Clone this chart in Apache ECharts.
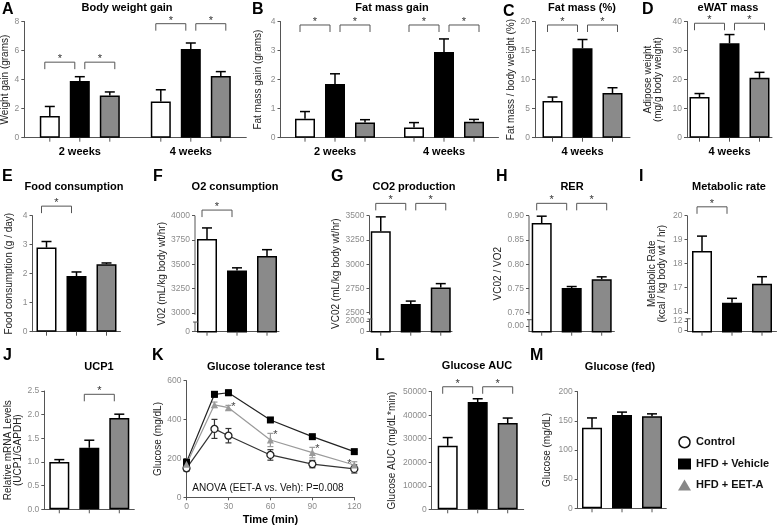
<!DOCTYPE html>
<html>
<head>
<meta charset="utf-8">
<script src="https://cdn.jsdelivr.net/npm/echarts@6/dist/echarts.min.js"></script>
<style>
html, body { margin: 0; padding: 0; background: #fff; }
#chart { width: 777px; height: 528px; }
</style>
</head>
<body>
<div id="chart"></div>
<script>
// groups in every panel: Control, HFD + Vehicle, HFD + EET-A
var groups = ['Control', 'HFD + Vehicle', 'HFD + EET-A'];
var weeks2 = ['2 weeks', '4 weeks'];
var weeks1 = ['4 weeks'];
var noCat = [''];

// mean per category (rows) and group (cols); sem the same; sig = [category, from, to, bracket level]
var weightGain = [[1.5, 3.9, 2.9], [2.5, 6.1, 4.25]];
var weightGainSem = [[0.65, 0.3, 0.25], [0.8, 0.42, 0.3]];
var weightGainSig = [[0, 0, 1, 5.2], [0, 1, 2, 5.2], [1, 0, 1, 7.85], [1, 1, 2, 7.85]];

var fatGain = [[0.65, 1.85, 0.52], [0.35, 2.95, 0.55]];
var fatGainSem = [[0.25, 0.35, 0.1], [0.17, 0.45, 0.08]];
var fatGainSig = [[0, 0, 1, 3.88], [0, 1, 2, 3.88], [1, 0, 1, 3.88], [1, 1, 2, 3.88]];

var fatPct = [[6.3, 15.4, 7.7]];
var fatPctSem = [[0.7, 1.5, 0.9]];
var fatPctSig = [[0, 0, 1, 19.4], [0, 1, 2, 19.4]];

var ewat = [[14, 32.5, 20.6]];
var ewatSem = [[1.2, 3.0, 1.9]];
var ewatSig = [[0, 0, 1, 39.4], [0, 1, 2, 39.4]];

var food = [[2.9, 1.92, 2.33]];
var foodSem = [[0.21, 0.14, 0.04]];
var foodSig = [[0, 0, 1, 4.33]];

var vo2 = [[3760, 3436, 3584]];
var vo2Sem = [[114, 27, 66]];
var vo2Sig = [[0, 0, 1, 4058]];
var vo2Ticks = [3000, 3250, 3500, 3750, 4000];
var vo2Low = ['2000', '0'];

var vco2 = [[3340, 2590, 2760]];
var vco2Sem = [[148, 30, 40]];
var vco2Sig = [[0, 0, 1, 3627], [0, 1, 2, 3627]];
var vco2Ticks = [2500, 2750, 3000, 3250, 3500];
var vco2Low = ['2000', '0'];

var rer = [[0.885, 0.751, 0.769]];
var rerSem = [[0.014, 0.003, 0.005]];
var rerSig = [[0, 0, 1, 0.9255], [0, 1, 2, 0.9255]];
var rerTicks = [0.70, 0.75, 0.80, 0.85, 0.90];
var rerLow = ['0.50', '0.00'];

var metab = [[18.53, 16.38, 17.17]];
var metabSem = [[0.62, 0.18, 0.29]];
var metabSig = [[0, 0, 1, 20.37]];
var metabTicks = [16, 17, 18, 19, 20];
var metabLow = ['12', '0'];

var ucp1 = [[1.0, 1.3, 1.93]];
var ucp1Sem = [[0.05, 0.16, 0.08]];
var ucp1Sig = [[0, 1, 2, 2.43]];

var auc = [[27000, 45600, 36700]];
var aucSem = [[3500, 1400, 2100]];
var aucSig = [[0, 0, 1, 52100], [0, 1, 2, 52100]];

var fedGlucose = [[138, 160, 158]];
var fedGlucoseSem = [[17, 5, 4]];

// K glucose tolerance test
var kTime = [0, 20, 30, 60, 90, 120];
var kCtrl = [149, 352, 317, 218, 171, 146];
var kCtrlSem = [14, 49, 37, 27, 19, 21];
var kVeh = [180, 530, 538, 398, 312, 235];
var kVehSem = [12, 14, 14, 10, 7, 7];
var kEet = [170, 476, 461, 295, 230, 166];
var kEetSem = [10, 14, 12, 34, 27, 17];
var kStarTimes = [30, 60, 90, 120];

var FONT = '"Liberation Sans", Arial, sans-serif';
var AXIS = '#555';
var TICK = '#8c8c8c';
var FILL = ['#ffffff', '#000000', '#8a8a8a'];
var STEP = 30; // bar centre spacing (barWidth 20 + gap 10)

var panels = [
  {letter: 'A', lx: 2, ly: 10, title: 'Body weight gain', tx: 127, ty: 8,
   cats: weeks2, mean: weightGain, sem: weightGainSem, sig: weightGainSig, catLabels: true,
   name: 'Weight gain (grams)', gap: 10, grid: [24.3, 21.5, 222, 116.2], y: [0, 8, 2]},
  {letter: 'B', lx: 252, ly: 10, title: 'Fat mass gain', tx: 392, ty: 8,
   cats: weeks2, mean: fatGain, sem: fatGainSem, sig: fatGainSig, catLabels: true,
   name: 'Fat mass gain (grams)', gap: 17, grid: [280.5, 21.5, 218, 116.2], y: [0, 4, 1]},
  {letter: 'C', lx: 503, ly: 12, title: 'Fat mass (%)', tx: 582, ty: 8,
   cats: weeks1, mean: fatPct, sem: fatPctSem, sig: fatPctSig, catLabels: true,
   name: 'Fat mass / body weight (%)', gap: 15.5, grid: [535, 21.5, 95, 116.2], y: [0, 20, 5]},
  {letter: 'D', lx: 642, ly: 10, title: 'eWAT mass', tx: 728, ty: 8,
   cats: weeks1, mean: ewat, sem: ewatSem, sig: ewatSig, catLabels: true,
   name: 'Adipose weight\n(mg/g body weight)', gap: 24, grid: [687, 21.5, 85, 116.2], y: [0, 40, 10]},
  {letter: 'E', lx: 2, ly: 177, title: 'Food consumption', tx: 74, ty: 187,
   cats: noCat, mean: food, sem: foodSem, sig: foodSig,
   name: 'Food consumption (g / day)', gap: 18, grid: [32.5, 215.7, 88, 116], y: [0, 4, 1]},
  {letter: 'F', lx: 153, ly: 177, title: 'O2 consumption', tx: 235, ty: 187,
   cats: noCat, mean: vo2, sem: vo2Sem, sig: vo2Sig,
   name: 'V02 (mL/kg body wt/hr)', gap: 27.5, grid: [195, 215.7, 84, 116], y: [2805, 4000],
   ticks: vo2Ticks, low: vo2Low, lowAt: [2884, 2805]},
  {letter: 'G', lx: 331, ly: 177, title: 'CO2 production', tx: 414, ty: 187,
   cats: noCat, mean: vco2, sem: vco2Sem, sig: vco2Sig,
   name: 'VC02 (mL/kg body wt/hr)', gap: 24.5, grid: [369.5, 215.7, 82.5, 116], y: [2304.5, 3500],
   ticks: vco2Ticks, low: vco2Low, lowAt: [2414.6, 2304.5]},
  {letter: 'H', lx: 496, ly: 177, title: 'RER', tx: 572, ty: 187,
   cats: noCat, mean: rer, sem: rerSem, sig: rerSig, dec: 2,
   name: 'VC02 / VO2', gap: 26, grid: [529, 215.7, 85.4, 116], y: [0.6609, 0.90],
   ticks: rerTicks, low: rerLow, lowAt: [0.6815, 0.6730]},
  {letter: 'I', lx: 639, ly: 177, title: 'Metabolic rate', tx: 729, ty: 187,
   cats: noCat, mean: metab, sem: metabSem, sig: metabSig,
   name: 'Metabolic Rate\n(kcal / kg body wt / hr)', gap: 20, grid: [687.5, 215.7, 89, 116], y: [15.17, 20],
   ticks: metabTicks, low: metabLow, lowAt: [15.625, 15.21]},
  {letter: 'J', lx: 3, ly: 356, title: 'UCP1', tx: 99, ty: 367,
   cats: noCat, mean: ucp1, sem: ucp1Sem, sig: ucp1Sig, dec: 1,
   name: 'Relative mRNA Levels\n(UCP1/GAPDH)', gap: 20, grid: [44.3, 391, 90, 118.3], y: [0, 2.5, 0.5]},
  {letter: 'L', lx: 375, ly: 356, title: 'Glucose AUC', tx: 477, ty: 366,
   cats: noCat, mean: auc, sem: aucSem, sig: aucSig,
   name: 'Glucose AUC (mg/dL*min)', gap: 34, grid: [431.7, 391.7, 92, 117.6], y: [0, 50000, 10000]},
  {letter: 'M', lx: 530, ly: 356, title: 'Glucose (fed)', tx: 620, ty: 367,
   cats: noCat, mean: fedGlucose, sem: fedGlucoseSem, sig: [],
   name: 'Glucose (mg/dL)', gap: 25, grid: [577.7, 391.7, 88.6, 116.6], y: [0, 200, 50]}
];

function labelFmt(p) {
  return function (v) {
    if (p.lowAt) {
      for (var k = 0; k < p.lowAt.length; k++) {
        if (Math.abs(p.lowAt[k] - v) < 1e-6) return p.low[k];
      }
    }
    return p.dec ? v.toFixed(p.dec) : String(+v.toFixed(6));
  };
}

function errRender(params, api) {
  var c = api.value(0), g = api.value(1), m = api.value(2), s = api.value(3);
  var p0 = api.coord([c, m]);
  var p1 = api.coord([c, m + s]);
  var x = p0[0] + (g - 1) * STEP;
  var bottom = params.coordSys.y + params.coordSys.height;
  return {
    type: 'group',
    children: [
      {type: 'line', shape: {x1: x, y1: p0[1], x2: x, y2: p1[1]}, style: {stroke: '#000', lineWidth: 1.5}},
      {type: 'line', shape: {x1: x - 5, y1: p1[1], x2: x + 5, y2: p1[1]}, style: {stroke: '#000', lineWidth: 1.5}},
      {type: 'line', shape: {x1: x, y1: bottom, x2: x, y2: bottom + 4}, style: {stroke: AXIS, lineWidth: 1}}
    ]
  };
}

function sigRender(params, api) {
  var c = api.value(0), a = api.value(1), b = api.value(2), lv = api.value(3), dx = api.value(4);
  var p = api.coord([c, lv]);
  var x1 = p[0] + (a - 1) * STEP + dx;
  var x2 = p[0] + (b - 1) * STEP + dx;
  var y = p[1];
  return {
    type: 'group',
    children: [
      {type: 'polyline', shape: {points: [[x1, y + 7], [x1, y], [x2, y], [x2, y + 7]]},
       style: {stroke: AXIS, lineWidth: 1, fill: null}},
      {type: 'text', x: (x1 + x2) / 2, y: y - 3,
       style: {text: '*', fill: '#333', font: '11px ' + FONT, align: 'center', verticalAlign: 'middle'}}
    ]
  };
}

function breakRender(p) {
  return function (params, api) {
    var cs = params.coordSys;
    var x = cs.x;
    var yMain = api.coord([0, p.ticks[0]])[1];
    var yLow = api.coord([0, p.lowAt[0]])[1];
    var yBot = cs.y + cs.height;
    return {
      type: 'group',
      children: [
        {type: 'line', shape: {x1: x, y1: cs.y, x2: x, y2: yMain + 2}, style: {stroke: AXIS, lineWidth: 1}},
        {type: 'line', shape: {x1: x, y1: yLow - 2, x2: x, y2: yBot}, style: {stroke: AXIS, lineWidth: 1}},
        {type: 'line', shape: {x1: x - 2, y1: yLow - 2, x2: x + 3, y2: yLow - 2}, style: {stroke: AXIS, lineWidth: 1}}
      ]
    };
  };
}

var option = {
  animation: false,
  backgroundColor: '#fff',
  grid: [],
  xAxis: [],
  yAxis: [],
  series: [],
  graphic: [],
  legend: {
    orient: 'vertical',
    left: 678,
    top: 436,
    padding: 0,
    itemWidth: 13,
    itemHeight: 11,
    itemGap: 10,
    selectedMode: false,
    textStyle: {fontFamily: FONT, fontSize: 11, fontWeight: 'bold', color: '#111'},
    data: [
      {name: groups[0], icon: 'circle', itemStyle: {color: '#fff', borderColor: '#111', borderWidth: 1.5}},
      {name: groups[1], icon: 'rect', itemStyle: {color: '#000', borderWidth: 0}},
      {name: groups[2], icon: 'triangle', itemStyle: {color: '#888', borderWidth: 0}}
    ]
  }
};

function addText(x, y, text, size, bold, color) {
  option.graphic.push({
    type: 'text', x: x, y: y, silent: true,
    style: {text: text, font: (bold ? 'bold ' : '') + size + 'px ' + FONT, fill: color || '#000',
            align: size > 14 ? 'left' : 'center', verticalAlign: 'middle'}
  });
}

panels.forEach(function (p, i) {
  option.grid.push({left: p.grid[0], top: p.grid[1], width: p.grid[2], height: p.grid[3],
                    containLabel: false, outerBoundsMode: 'none'});
  option.xAxis.push({
    type: 'category', gridIndex: i, data: p.cats,
    axisLine: {lineStyle: {color: AXIS, width: 1}},
    axisTick: {show: false},
    axisLabel: {show: !!p.catLabels, margin: 9, color: '#000', fontSize: 11, fontWeight: 'bold', fontFamily: FONT},
    splitLine: {show: false}
  });
  var y = {
    type: 'value', gridIndex: i, min: p.y[0], max: p.y[1],
    splitLine: {show: false},
    axisLine: {show: !p.ticks, lineStyle: {color: AXIS, width: 1}},
    axisTick: {show: true, length: 3, lineStyle: {color: AXIS}},
    axisLabel: {margin: 5, color: TICK, fontSize: 8.5, fontFamily: FONT, formatter: labelFmt(p)},
    name: p.name, nameLocation: 'middle', nameGap: p.gap,
    nameTextStyle: {fontSize: 10, color: '#222', fontFamily: FONT, lineHeight: 10}
  };
  if (p.ticks) {
    var vals = p.lowAt.concat(p.ticks);
    y.axisLabel.customValues = vals;
    y.axisTick.customValues = vals;
  } else {
    y.interval = p.y[2];
  }
  option.yAxis.push(y);

  for (var g = 0; g < 3; g++) {
    option.series.push({
      type: 'bar', xAxisIndex: i, yAxisIndex: i, silent: true,
      barWidth: 20, barGap: '50%',
      data: p.mean.map(function (row) { return row[g]; }),
      itemStyle: {color: FILL[g], borderColor: '#000', borderWidth: 1.5}
    });
  }

  var errData = [];
  p.mean.forEach(function (row, c) {
    row.forEach(function (m, g2) { errData.push([c, g2, m, p.sem[c][g2]]); });
  });
  option.series.push({type: 'custom', xAxisIndex: i, yAxisIndex: i, silent: true, z: 3,
                      renderItem: errRender, data: errData});

  if (p.sig.length) {
    var sigData = p.sig.map(function (s) {
      var hasLeft = p.sig.some(function (o) { return o[0] === s[0] && o[1] === 0; });
      var dx = (s[1] === 1 && hasLeft) ? 5 : -5;
      return [s[0], s[1], s[2], s[3], dx];
    });
    option.series.push({type: 'custom', xAxisIndex: i, yAxisIndex: i, silent: true, z: 3,
                        renderItem: sigRender, data: sigData});
  }
  if (p.ticks) {
    option.series.push({type: 'custom', xAxisIndex: i, yAxisIndex: i, silent: true, z: 3,
                        renderItem: breakRender(p), data: [[0, p.y[0]]]});
  }

  addText(p.lx, p.ly, p.letter, 16, true);
  addText(p.tx, p.ty, p.title, 11, true);
});

// K: glucose tolerance test (line chart)
var ki = panels.length;
option.grid.push({left: 186.5, top: 380.7, width: 167.8, height: 116.6, containLabel: false, outerBoundsMode: 'none'});
option.xAxis.push({
  type: 'value', gridIndex: ki, min: 0, max: 120, interval: 30,
  axisLine: {lineStyle: {color: AXIS, width: 1}},
  axisTick: {show: true, length: 3, lineStyle: {color: AXIS}},
  axisLabel: {margin: 5, color: TICK, fontSize: 8.5, fontFamily: FONT},
  splitLine: {show: false},
  name: 'Time (min)', nameLocation: 'middle', nameGap: 17,
  nameTextStyle: {fontSize: 11, fontWeight: 'bold', color: '#000', fontFamily: FONT}
});
option.yAxis.push({
  type: 'value', gridIndex: ki, min: 0, max: 600, interval: 200,
  axisLine: {show: true, lineStyle: {color: AXIS, width: 1}},
  axisTick: {show: true, length: 3, lineStyle: {color: AXIS}},
  axisLabel: {margin: 5, color: TICK, fontSize: 8.5, fontFamily: FONT},
  splitLine: {show: false},
  name: 'Glucose (mg/dL)', nameLocation: 'middle', nameGap: 21.5,
  nameTextStyle: {fontSize: 10, color: '#222', fontFamily: FONT, lineHeight: 10}
});

var kSets = [
  {name: groups[0], mean: kCtrl, sem: kCtrlSem, color: '#333', symbol: 'circle',
   item: {color: '#fff', borderColor: '#222', borderWidth: 1.3}},
  {name: groups[1], mean: kVeh, sem: kVehSem, color: '#222', symbol: 'rect',
   item: {color: '#000', borderWidth: 0}},
  {name: groups[2], mean: kEet, sem: kEetSem, color: '#9a9a9a', symbol: 'triangle',
   item: {color: '#9a9a9a', borderWidth: 0}}
];

function kErrRender(color) {
  return function (params, api) {
    var t = api.value(0), m = api.value(1), s = api.value(2);
    var lo = api.coord([t, m - s]);
    var hi = api.coord([t, m + s]);
    var st = {stroke: color, lineWidth: 1.2};
    return {
      type: 'group',
      children: [
        {type: 'line', shape: {x1: lo[0], y1: lo[1], x2: hi[0], y2: hi[1]}, style: st},
        {type: 'line', shape: {x1: lo[0] - 3, y1: lo[1], x2: lo[0] + 3, y2: lo[1]}, style: st},
        {type: 'line', shape: {x1: hi[0] - 3, y1: hi[1], x2: hi[0] + 3, y2: hi[1]}, style: st}
      ]
    };
  };
}

kSets.forEach(function (k) {
  option.series.push({
    type: 'custom', xAxisIndex: ki, yAxisIndex: ki, silent: true, z: 2,
    renderItem: kErrRender(k.color),
    data: kTime.map(function (t, j) { return [t, k.mean[j], k.sem[j]]; })
  });
});
kSets.forEach(function (k) {
  option.series.push({
    type: 'line', name: k.name, xAxisIndex: ki, yAxisIndex: ki, silent: true, z: 4,
    symbol: k.symbol, symbolSize: 7, showAllSymbol: true,
    lineStyle: {color: k.color, width: 1.2},
    itemStyle: k.item,
    data: kTime.map(function (t, j) { return [t, k.mean[j]]; })
  });
});
option.series.push({
  type: 'custom', xAxisIndex: ki, yAxisIndex: ki, silent: true, z: 5,
  renderItem: function (params, api) {
    var t = api.value(0);
    var p = api.coord([t, api.value(1)]);
    var dx = t === 120 ? -5 : 5;
    return {type: 'text', x: p[0] + dx, y: p[1] + 2,
            style: {text: '*', fill: '#444', font: '11px ' + FONT, align: 'center', verticalAlign: 'middle'}};
  },
  data: kStarTimes.map(function (t) {
    var j = kTime.indexOf(t);
    return [t, kEet[j] + kEetSem[j]];
  })
});

addText(152, 356, 'K', 16, true);
addText(266, 367, 'Glucose tolerance test', 11, true);
addText(268, 488.5, 'ANOVA (EET-A vs. Veh): P=0.008', 10, false, '#111');

var chart = echarts.init(document.getElementById('chart'), null, {renderer: 'canvas'});
chart.setOption(option);
</script>
</body>
</html>
